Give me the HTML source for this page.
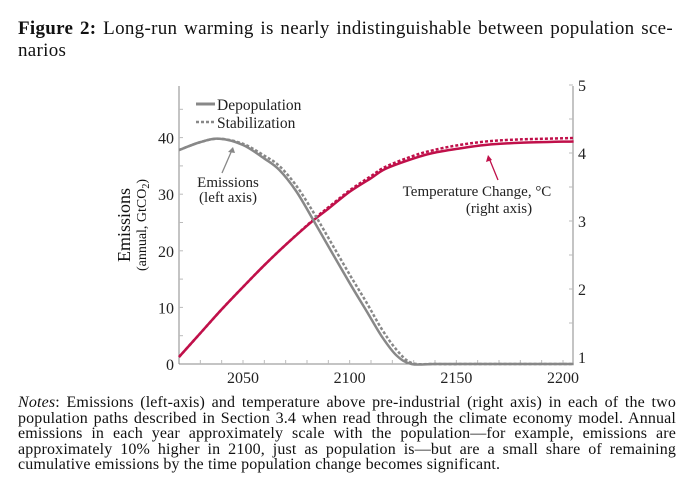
<!DOCTYPE html>
<html><head><meta charset="utf-8">
<style>
body{margin:0;background:#fff;width:691px;height:492px;overflow:hidden;font-family:"Liberation Serif",serif;color:#111}
.t{position:absolute;left:18px;width:655px;font-size:19px;letter-spacing:0.3px;line-height:22px;text-align:justify;text-align-last:justify;white-space:nowrap}
.n{position:absolute;left:18px;width:658px;font-size:16px;letter-spacing:0.15px;line-height:15.5px;text-align:justify;text-align-last:justify;white-space:nowrap}
svg{position:absolute;left:0;top:0}
</style></head><body>
<div class="t" style="top:18px"><b>Figure 2:</b> Long-run warming is nearly indistinguishable between population sce-</div>
<div class="t" style="top:40px;text-align-last:left">narios</div>
<svg id="chart" width="691" height="492"></svg>
<div class="n" style="top:395px"><i>Notes</i>: Emissions (left-axis) and temperature above pre-industrial (right axis) in each of the two</div>
<div class="n" style="top:411px">population paths described in Section 3.4 when read through the climate economy model. Annual</div>
<div class="n" style="top:426px">emissions in each year approximately scale with the population—for example, emissions are</div>
<div class="n" style="top:442px">approximately 10% higher in 2100, just as population is—but are a small share of remaining</div>
<div class="n" style="top:457px;text-align-last:left">cumulative emissions by the time population change becomes significant.</div>
<script>
const years=[2020,2030,2039,2050,2060,2067,2075,2083,2090,2100,2108,2115,2122,2129,2140,2160,2180,2205];
const depop=[37.8,39.2,39.8,38.7,36.3,34.3,30.5,25.4,20.8,14.3,9.3,4.9,1.5,0,0,0,0,0];
const stab=[37.8,39.2,39.8,38.9,36.8,35.0,31.5,26.8,22.3,15.8,10.8,6.2,2.5,0.2,0,0,0,0];
const tYears=[2020,2030,2040,2050,2060,2070,2083,2090,2100,2110,2117,2130,2139,2150,2164,2180,2205];
const tempDepop=[1.0,1.35,1.7,2.03,2.35,2.65,3.01,3.18,3.43,3.63,3.77,3.92,4.0,4.06,4.12,4.15,4.17];
const tempStab=[1.0,1.35,1.7,2.03,2.35,2.65,3.02,3.2,3.45,3.66,3.8,3.96,4.04,4.11,4.17,4.2,4.22];
const xTicks=[2050,2100,2150,2200];
const yTicks=[0,10,20,30,40];
const rTicks=[1,2,3,4,5];
const X=y=>179+(y-2020)*2.1333;
const YL=v=>364-v*5.66;
const YR=v=>357-(v-1)*68;
const NS="http://www.w3.org/2000/svg";
const svg=document.getElementById('chart');
function mk(tag,attrs,parent){const e=document.createElementNS(NS,tag);for(const k in attrs)e.setAttribute(k,attrs[k]);(parent||svg).appendChild(e);return e;}
let a=mk('line',{x1:179,y1:86,x2:179,y2:364,stroke:'#888','stroke-width':1});

a=mk('line',{x1:573,y1:86,x2:573,y2:364,stroke:'#888','stroke-width':1});

a=mk('line',{x1:179,y1:364,x2:573,y2:364,stroke:'#888','stroke-width':1});

for(let y=2030;y<=2200;y+=10){mk('line',{x1:X(y),y1:364,x2:X(y),y2:360,stroke:'#bbb'});}
for(let v=5;v<=45;v+=5){mk('line',{x1:179,y1:YL(v),x2:183,y2:YL(v),stroke:'#bbb'});}
for(let v=1.5;v<=5;v+=0.5){mk('line',{x1:573,y1:YR(v),x2:569,y2:YR(v),stroke:'#bbb'});}
xTicks.forEach(t=>{const e=mk('text',{x:X(t),y:383,'text-anchor':'middle','font-size':16,fill:'#222'});e.textContent=t;
});
yTicks.forEach(t=>{const e=mk('text',{x:174,y:YL(t)+6,'text-anchor':'end','font-size':16,fill:'#222'});e.textContent=t;
});
rTicks.forEach(t=>{const e=mk('text',{x:578,y:YR(t)+6,'font-size':16,fill:'#222'});e.textContent=t;
});
let yt=mk('text',{transform:'translate(130,225) rotate(-90)','text-anchor':'middle','font-size':18,fill:'#111'});yt.textContent='Emissions';

yt=mk('text',{transform:'translate(146,225) rotate(-90)','text-anchor':'middle','font-size':14,fill:'#111'});
yt.innerHTML='(annual, GtCO<tspan font-size="10" dy="3">2</tspan><tspan dy="-3">)</tspan>';

function smooth(xs,vs,sc){const p=xs.map((x,i)=>[X(x),sc(vs[i])]);let d='M'+p[0];for(let i=0;i<p.length-1;i++){const p0=p[i-1]||p[i],p1=p[i],p2=p[i+1],p3=p[i+2]||p2;
const c1=[p1[0]+(p2[0]-p0[0])/6,p1[1]+(p2[1]-p0[1])/6],c2=[p2[0]-(p3[0]-p1[0])/6,p2[1]-(p3[1]-p1[1])/6];d+='C'+c1+' '+c2+' '+p2;}return d;}
let l=mk('path',{d:smooth(tYears,tempStab,YR),fill:'none',stroke:'#c0104a','stroke-width':2.5,'stroke-dasharray':'3,2'});

l=mk('path',{d:smooth(tYears,tempDepop,YR),fill:'none',stroke:'#c0104a','stroke-width':2.5});

l=mk('path',{d:smooth(years,stab,YL),fill:'none',stroke:'#888','stroke-width':2.5,'stroke-dasharray':'3,2'});

l=mk('path',{d:smooth(years,depop,YL),fill:'none',stroke:'#888','stroke-width':2.5});

let g=mk('line',{x1:196,y1:104,x2:215,y2:104,stroke:'#888','stroke-width':3});

g=mk('line',{x1:196,y1:122,x2:215,y2:122,stroke:'#888','stroke-width':2.5,'stroke-dasharray':'3,2'});

g=mk('text',{x:217,y:110,'font-size':15.5,fill:'#222'});g.textContent='Depopulation';

g=mk('text',{x:217,y:128,'font-size':15.5,fill:'#222'});g.textContent='Stabilization';

let an=mk('text',{x:228,y:187,'text-anchor':'middle','font-size':15,fill:'#222'});an.textContent='Emissions';

an=mk('text',{x:228,y:202,'text-anchor':'middle','font-size':15,fill:'#222'});an.textContent='(left axis)';

an=mk('line',{x1:222,y1:173,x2:232,y2:150,stroke:'#888','stroke-width':1.3});

mk('path',{d:'M233,147 L228,152 L235,153 Z',fill:'#888'});
an=mk('text',{x:477,y:196,'text-anchor':'middle','font-size':15,fill:'#222'});an.textContent='Temperature Change, °C';

an=mk('text',{x:499,y:213,'text-anchor':'middle','font-size':15,fill:'#222'});an.textContent='(right axis)';

an=mk('line',{x1:498,y1:180,x2:489,y2:158,stroke:'#c0104a','stroke-width':1.3});

mk('path',{d:'M488,155 L486,162 L492,160 Z',fill:'#c0104a'});
</script>
</body></html>
